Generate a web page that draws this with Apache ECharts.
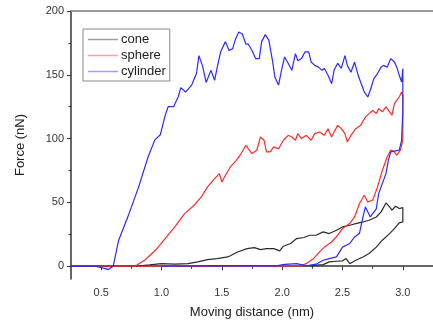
<!DOCTYPE html>
<html>
<head>
<meta charset="utf-8">
<script src="https://cdn.jsdelivr.net/npm/echarts@6/dist/echarts.min.js"></script>
<style>
  html, body { margin: 0; padding: 0; background: #fff; }
  #chart { width: 433px; height: 324px; }
</style>
</head>
<body>
<div id="chart"></div>
<script>
// ── Data ────────────────────────────────────────────────────────────────────

const seriesNames = ['cone', 'sphere', 'cylinder']

const xTicks = [0.5, 1.0, 1.5, 2.0, 2.5, 3.0]
const xMinorTicks = [0.75, 1.25, 1.75, 2.25, 2.75, 3.25]
const yTicks = [0, 50, 100, 150, 200]
const yMinorTicks = [25, 75, 125, 175]

// loading branch then unloading branch, [distance, force]
const coneData = [
  [0.25, 0], [0.78, 0], [0.9, 1], [1.0, 2], [1.11, 1.6], [1.22, 2], [1.3, 3.4],
  [1.38, 5.2], [1.46, 6], [1.55, 7.3], [1.63, 11.2], [1.71, 13.8], [1.77, 14.6],
  [1.82, 13], [1.87, 13.8], [1.93, 13.8], [1.98, 12], [2.01, 15.7], [2.07, 17.8],
  [2.12, 21.7], [2.18, 22.5], [2.23, 24.3], [2.28, 24.3], [2.34, 26.9], [2.39, 25.6],
  [2.45, 28.2], [2.5, 30.8], [2.56, 32.1], [2.61, 33.4], [2.67, 34.7], [2.72, 36],
  [2.78, 38.6], [2.82, 42.6], [2.86, 49.6], [2.89, 46.5], [2.91, 43.9], [2.94, 47],
  [2.97, 45.2], [3.0, 46],
  [3.0, 34.7], [2.97, 34], [2.93, 29.5], [2.89, 25.6], [2.83, 20.4], [2.78, 15],
  [2.72, 10], [2.67, 7.3], [2.61, 4.7], [2.56, 2], [2.53, 6], [2.5, 4.2],
  [2.45, 3.9], [2.39, 3.4], [2.34, 1.3], [2.28, 0.8], [2.23, 0]
]

const sphereData = [
  [0.25, 0], [0.78, 0], [0.86, 4.7], [0.95, 12.5], [1.03, 21.7], [1.11, 30.8],
  [1.19, 41], [1.27, 47.8], [1.33, 54.3], [1.38, 62], [1.44, 68.7], [1.48, 72.6],
  [1.5, 66], [1.53, 71.3], [1.57, 77.8], [1.62, 83], [1.66, 88.3], [1.7, 94.8],
  [1.72, 92], [1.75, 88.3], [1.79, 90.9], [1.82, 101.3], [1.85, 98.7], [1.87, 89.6],
  [1.9, 89.6], [1.93, 93.5], [1.97, 92], [2.01, 98.7], [2.05, 102.6], [2.08, 101.3],
  [2.11, 98.7], [2.13, 103.9], [2.16, 100], [2.2, 102.6], [2.24, 98.7], [2.27, 103.9],
  [2.31, 105.2], [2.35, 102.6], [2.38, 107.8], [2.41, 101.3], [2.43, 105.2],
  [2.46, 110.4], [2.49, 107.8], [2.52, 103.9], [2.54, 97.4], [2.57, 102.6],
  [2.61, 107.8], [2.65, 110.4], [2.69, 117], [2.72, 119.6], [2.75, 122], [2.78, 119.6],
  [2.8, 123.5], [2.83, 121], [2.86, 124.8], [2.89, 121], [2.91, 118.3], [2.93, 127.4],
  [2.95, 130], [2.97, 132.6], [2.99, 136.6], [3.0, 134],
  [3.0, 98.7], [2.98, 91], [2.95, 87], [2.93, 89.6], [2.9, 91], [2.87, 85.6],
  [2.83, 75], [2.79, 62], [2.75, 51.7], [2.71, 50.4], [2.68, 55.6], [2.64, 49],
  [2.6, 38.6], [2.56, 33.4], [2.5, 29.5], [2.46, 24.3], [2.41, 19], [2.35, 15],
  [2.31, 11.2], [2.26, 6], [2.2, 2], [2.15, 0.3], [1.5, 0], [0.8, 0]
]

const cylinderData = [
  [0.25, 0], [0.45, 0], [0.52, -1.5], [0.56, -2.6], [0.6, 0], [0.645, 20.4],
  [0.73, 41], [0.81, 62], [0.89, 86], [0.945, 99], [0.99, 103], [1.03, 118],
  [1.055, 125], [1.1, 125], [1.14, 133], [1.16, 140], [1.2, 136.5], [1.25, 142],
  [1.29, 151], [1.31, 165], [1.34, 157], [1.37, 144], [1.41, 153.5], [1.44, 145.7],
  [1.46, 155], [1.49, 168], [1.53, 176], [1.56, 169], [1.59, 170.5], [1.61, 177],
  [1.64, 183.5], [1.67, 182], [1.7, 174], [1.72, 174], [1.75, 169], [1.78, 162.7],
  [1.81, 162.7], [1.83, 176], [1.86, 181.5], [1.89, 177], [1.92, 161], [1.94, 148],
  [1.97, 142], [2.0, 156], [2.02, 164], [2.05, 159], [2.08, 153.5], [2.11, 166.6],
  [2.13, 161], [2.16, 162.7], [2.19, 168], [2.22, 168], [2.24, 160], [2.27, 157.4],
  [2.3, 156], [2.33, 153.5], [2.35, 155], [2.38, 149.6], [2.41, 143], [2.43, 153.5],
  [2.46, 159], [2.49, 155], [2.52, 165], [2.54, 157.4], [2.57, 152], [2.6, 160],
  [2.63, 149.6], [2.65, 144.4], [2.68, 136.6], [2.71, 132.6], [2.73, 137.9],
  [2.76, 147], [2.79, 151], [2.82, 156], [2.84, 157.4], [2.87, 156], [2.9, 162.7],
  [2.93, 160], [2.95, 156], [2.97, 149.6], [2.99, 144.4], [3.0, 155],
  [3.0, 122], [2.99, 98.7], [2.97, 91], [2.9, 89.6], [2.88, 83], [2.86, 72.6],
  [2.8, 57], [2.78, 45], [2.73, 38.6], [2.69, 46.5], [2.67, 38.6], [2.64, 25.6],
  [2.6, 23], [2.56, 17.8], [2.5, 15], [2.45, 7.3], [2.39, 6], [2.34, 4.7],
  [2.28, 1.6], [2.2, 0.3], [2.12, 2], [2.02, 1.5], [1.95, 0.3], [1.5, 0.5], [1.0, 0]
]

const seriesData = [coneData, sphereData, cylinderData]
const lineColors = ['#2b2b2b', '#ff2a2a', '#2a2aff']

// ── Chart ───────────────────────────────────────────────────────────────────

const chart = echarts.init(document.getElementById('chart'))
const fontFamily = 'Arial, "Liberation Sans", sans-serif'
const axisColor = '#333'

const option = {
  animation: false,
  textStyle: { fontFamily },
  grid: { left: 71, top: 11, right: -5, bottom: 45 },
  legend: {
    left: 83,
    top: 29,
    orient: 'vertical',
    icon: 'rect',
    itemWidth: 30,
    itemHeight: 1.5,
    itemGap: 3,
    padding: [4, 4, 3, 5],
    borderColor: '#888',
    borderWidth: 1,
    itemStyle: { opacity: 0.45 },
    textStyle: { fontSize: 13, color: '#222', lineHeight: 13, padding: [0, 0, 0, -2] },
    data: seriesNames,
  },
  xAxis: [
    {
      type: 'value',
      min: 0.25,
      max: 3.25,
      name: 'Moving distance (nm)',
      nameLocation: 'middle',
      nameGap: 27,
      nameTextStyle: { fontSize: 13, color: '#222' },
      splitLine: { show: false },
      axisLine: { lineStyle: { color: axisColor, width: 1.5 } },
      axisTick: { length: 4, customValues: xTicks, lineStyle: { color: axisColor } },
      axisLabel: {
        customValues: xTicks,
        fontSize: 11,
        color: '#333',
        margin: 8,
        formatter: v => v.toFixed(1),
      },
    },
    {
      // minor ticks
      type: 'value',
      min: 0.25,
      max: 3.25,
      position: 'bottom',
      splitLine: { show: false },
      axisLine: { show: false },
      axisTick: { length: 2.5, customValues: xMinorTicks, lineStyle: { color: axisColor } },
      axisLabel: { show: false },
    },
    {
      // top frame line
      type: 'value',
      min: 0.25,
      max: 3.25,
      position: 'top',
      splitLine: { show: false },
      axisLine: { lineStyle: { color: '#999', width: 2 } },
      axisTick: { show: false },
      axisLabel: { show: false },
    },
  ],
  yAxis: [
    {
      type: 'value',
      min: -10,
      max: 200,
      name: 'Force (nN)',
      nameLocation: 'middle',
      nameGap: 44,
      nameTextStyle: { fontSize: 13, color: '#222' },
      splitLine: { show: false },
      axisLine: { show: true, lineStyle: { color: axisColor, width: 1.5 } },
      axisTick: { show: true, length: 4, customValues: yTicks, lineStyle: { color: axisColor } },
      axisLabel: { customValues: yTicks, fontSize: 11, color: '#333', margin: 7 },
    },
    {
      // minor ticks
      type: 'value',
      min: -10,
      max: 200,
      position: 'left',
      splitLine: { show: false },
      axisLine: { show: false },
      axisTick: { show: true, length: 2.5, customValues: yMinorTicks, lineStyle: { color: axisColor } },
      axisLabel: { show: false },
    },
  ],
  series: seriesNames.map((name, i) => ({
    name,
    type: 'line',
    data: seriesData[i],
    showSymbol: false,
    symbol: 'none',
    lineStyle: { color: lineColors[i], width: 1.2 },
    itemStyle: { color: lineColors[i] },
  })),
}

chart.setOption(option)
</script>
</body>
</html>
